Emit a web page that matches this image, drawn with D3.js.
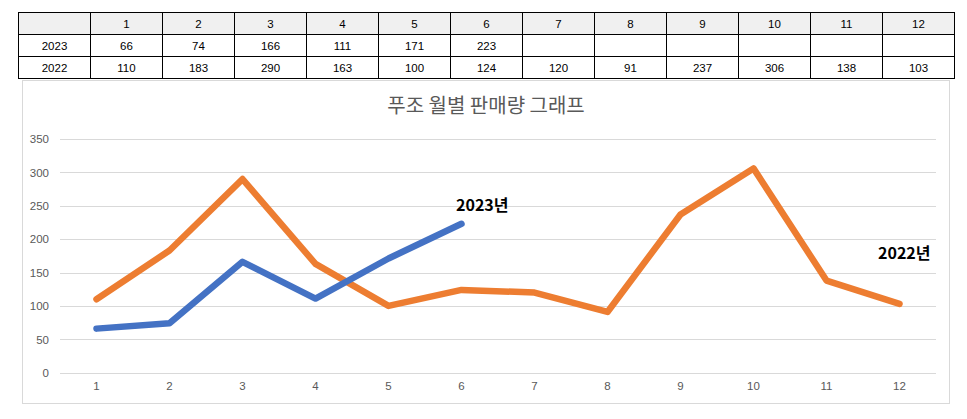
<!DOCTYPE html>
<html>
<head>
<meta charset="utf-8">
<script src="https://cdn.jsdelivr.net/npm/d3@7"></script>
<style>
  body { margin: 0; background: #fff; }
  svg { display: block; }
</style>
</head>
<body>
<svg id="chart" width="967" height="419"></svg>
<script>
// data
const months = ['1','2','3','4','5','6','7','8','9','10','11','12'];
const sales2023 = [66, 74, 166, 111, 171, 223];
const sales2022 = [110, 183, 290, 163, 100, 124, 120, 91, 237, 306, 138, 103];
const yTicks = [0, 50, 100, 150, 200, 250, 300, 350];
const seriesNames = ['2023', '2022'];
const seriesLabels = ['2023년', '2022년'];
const chartTitle = '푸조 월별 판매량 그래프';

const svg = d3.select('#chart');
const tableFont = '"Liberation Sans", Arial, sans-serif';
const krFont = '"Noto Sans CJK KR", "Noto Sans", sans-serif';

// ---- table on top ----
const tbl = { x: 18, y: 12, firstW: 72, colW: 72, rowH: 22 };
const rows = [
  { label: '', vals: months, header: true },
  { label: seriesNames[0], vals: sales2023 },
  { label: seriesNames[1], vals: sales2022 }
];
const tg = svg.append('g');
rows.forEach(function(r, ri) {
  const y = tbl.y + ri * tbl.rowH;
  const cells = [r.label].concat(months.map((m, i) => r.vals[i] !== undefined ? r.vals[i] : ''));
  cells.forEach(function(c, ci) {
    const x = tbl.x + (ci === 0 ? 0 : tbl.firstW + (ci - 1) * tbl.colW);
    const w = ci === 0 ? tbl.firstW : tbl.colW;
    tg.append('rect')
      .attr('x', x + 0.5).attr('y', y + 0.5)
      .attr('width', w).attr('height', tbl.rowH)
      .attr('fill', r.header ? '#f0f0f0' : '#fff')
      .attr('stroke', '#000').attr('stroke-width', 1);
    tg.append('text')
      .attr('x', x + w / 2 + 0.5).attr('y', y + tbl.rowH / 2 + 5)
      .attr('text-anchor', 'middle')
      .attr('style', 'font-family:' + tableFont + '; font-size:11.5px; fill:#000')
      .text(c);
  });
});

// ---- chart frame ----
svg.append('rect')
  .attr('x', 22.5).attr('y', 80.5)
  .attr('width', 927).attr('height', 323)
  .attr('fill', '#fff').attr('stroke', '#d9d9d9');

svg.append('text')
  .attr('x', 486).attr('y', 113)
  .attr('text-anchor', 'middle')
  .attr('style', 'font-family:' + krFont + '; font-size:20px; fill:#595959')
  .text(chartTitle);

const plot = { left: 60, right: 936, top: 139, bottom: 372.7 };
const x = d3.scaleBand().domain(months).range([plot.left, plot.right]);
const y = d3.scaleLinear().domain([0, 350]).range([plot.bottom, plot.top]);

// gridlines
svg.append('g')
  .selectAll('line')
  .data(yTicks)
  .join('line')
  .attr('x1', plot.left).attr('x2', plot.right)
  .attr('y1', d => Math.round(y(d)) + 0.5).attr('y2', d => Math.round(y(d)) + 0.5)
  .attr('stroke', '#d9d9d9').attr('stroke-width', 1);

// y axis labels
const yAxis = svg.append('g')
  .attr('transform', 'translate(' + (plot.left - 11) + ',0)')
  .call(d3.axisLeft(y).tickValues(yTicks).tickSize(0).tickPadding(0));
yAxis.select('.domain').remove();
yAxis.selectAll('text')
  .attr('style', 'font-family:' + tableFont + '; font-size:11.5px; fill:#595959');

// x axis labels
const xAxis = svg.append('g')
  .attr('transform', 'translate(0,' + (plot.bottom + 9) + ')')
  .call(d3.axisBottom(x).tickSize(0).tickPadding(0));
xAxis.select('.domain').remove();
xAxis.selectAll('text')
  .attr('style', 'font-family:' + tableFont + '; font-size:11.5px; fill:#595959');

// lines
const line = d3.line()
  .x((d, i) => x(months[i]) + x.bandwidth() / 2)
  .y(d => y(d));

svg.append('path')
  .datum(sales2022)
  .attr('d', line)
  .attr('fill', 'none')
  .attr('stroke', '#ED7D31')
  .attr('stroke-width', 6.5)
  .attr('stroke-linejoin', 'round')
  .attr('stroke-linecap', 'round');

svg.append('path')
  .datum(sales2023)
  .attr('d', line)
  .attr('fill', 'none')
  .attr('stroke', '#4472C4')
  .attr('stroke-width', 6.5)
  .attr('stroke-linejoin', 'round')
  .attr('stroke-linecap', 'round');

// series labels
svg.append('text')
  .attr('x', 456).attr('y', 211)
  .attr('style', 'font-family:' + krFont + '; font-size:16px; font-weight:700; fill:#000')
  .text(seriesLabels[0]);
svg.append('text')
  .attr('x', 878).attr('y', 259)
  .attr('style', 'font-family:' + krFont + '; font-size:16px; font-weight:700; fill:#000')
  .text(seriesLabels[1]);
</script>
</body>
</html>
